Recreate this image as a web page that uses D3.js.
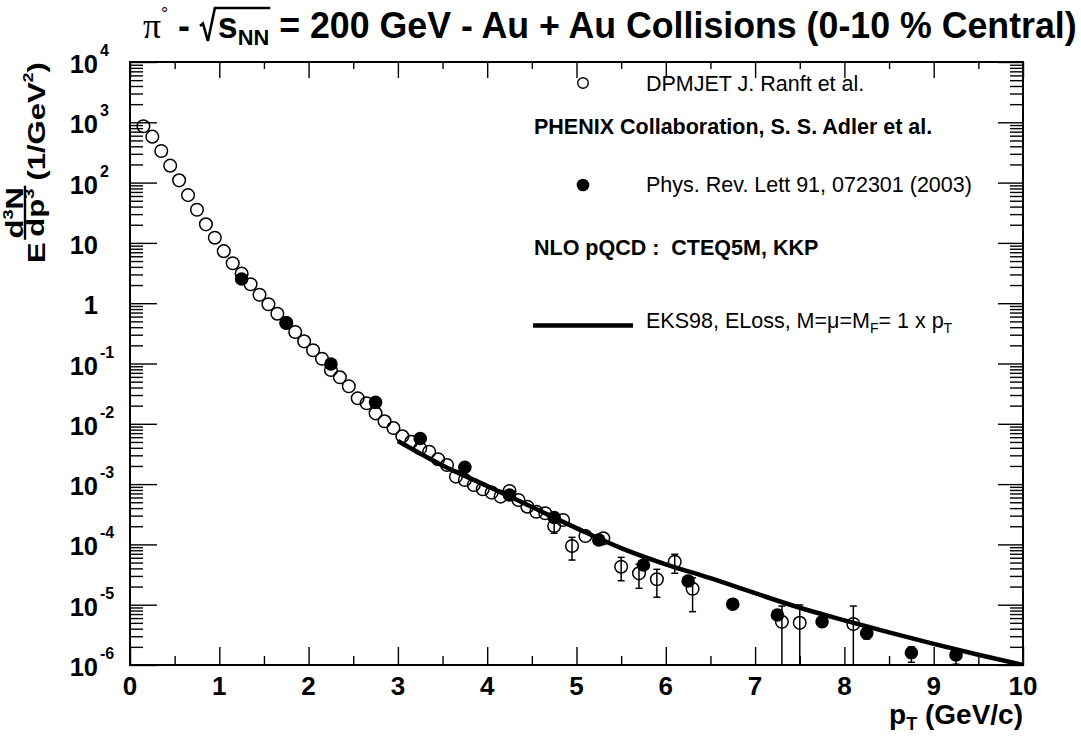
<!DOCTYPE html>
<html>
<head>
<meta charset="utf-8">
<script src="https://cdn.jsdelivr.net/npm/d3@7"></script>
<style>
  html, body { margin: 0; padding: 0; background: #fff; }
  svg { display: block; }
  text { white-space: pre; }
</style>
</head>
<body>
<svg id="chart" width="1081" height="737"></svg>
<script>
// ---- Data -------------------------------------------------------------
// DPMJET (J. Ranft et al.) pi0 invariant yield, open circles
const dpmjetPt = [0.15, 0.25, 0.35, 0.45, 0.55, 0.65, 0.75, 0.85, 0.95, 1.05,
  1.15, 1.25, 1.35, 1.45, 1.55, 1.65, 1.75, 1.85, 1.95, 2.05,
  2.15, 2.25, 2.35, 2.45, 2.55, 2.65, 2.75, 2.85, 2.95, 3.05,
  3.15, 3.25, 3.35, 3.45, 3.55, 3.65, 3.75, 3.85, 3.95, 4.05,
  4.15, 4.25, 4.35, 4.45, 4.55, 4.65, 4.75, 4.85, 4.95, 5.1,
  5.3, 5.5, 5.7, 5.9, 6.1, 6.3, 7.3, 7.5, 8.1];
const dpmjetYield = [860, 578, 334, 191, 109, 62, 35.5, 20.3, 12.2, 7.3,
  4.6, 3.09, 2.06, 1.38, 0.96, 0.67, 0.47, 0.333, 0.233, 0.166,
  0.12, 0.078, 0.059, 0.042, 0.0265, 0.0219, 0.0149, 0.011, 0.0085, 0.0062,
  0.00505, 0.0039, 0.00344, 0.00258, 0.00207, 0.00133, 0.00117, 0.000966, 0.00082, 0.000722,
  0.00062, 0.00077, 0.000545, 0.000422, 0.000348, 0.000328, 0.000202, 0.000254, 9.4e-5, 1.38e-4,
  1.26e-4, 4.27e-5, 3.31e-5, 2.64e-5, 5.16e-5, 1.84e-5, 5.2e-6, 5.0e-6, 4.79e-6];
// statistical error band (low, high); null = no bar drawn
const dpmjetLow = [null, null, null, null, null, null, null, null, null, null,
  null, null, null, null, null, null, null, null, null, null,
  null, null, null, null, null, null, null, null, null, null,
  null, null, null, null, null, null, null, null, null, null,
  null, null, null, null, null, null, 1.53e-4, null, 5.5e-5, null,
  null, 2.5e-5, 1.87e-5, 1.33e-5, 3.32e-5, 7.66e-6, 1e-7, 1e-7, 1e-7];
const dpmjetHigh = [null, null, null, null, null, null, null, null, null, null,
  null, null, null, null, null, null, null, null, null, null,
  null, null, null, null, null, null, null, null, null, null,
  null, null, null, null, null, null, null, null, null, null,
  null, null, null, null, null, null, 2.6e-4, null, 1.31e-4, null,
  null, 6.1e-5, 4.7e-5, 3.86e-5, 6.85e-5, 2.8e-5, 9.5e-6, 9.9e-6, 9.5e-6];

// PHENIX, Phys. Rev. Lett 91, 072301 (2003), filled circles
const phenixPt = [1.25, 1.75, 2.25, 2.75, 3.25, 3.75, 4.25, 4.75, 5.25,
  5.75, 6.25, 6.75, 7.25, 7.75, 8.25, 8.75, 9.25];
const phenixYield = [2.52, 0.475, 0.098, 0.0227, 0.0057, 0.0019, 0.00066, 0.00028, 0.000118,
  4.55e-5, 2.47e-5, 1.02e-5, 6.75e-6, 5.22e-6, 3.36e-6, 1.6e-6, 1.47e-6];
const phenixLow = [null, null, null, null, null, null, null, null, null,
  null, null, null, null, null, 2.7e-6, 1.11e-6, 1.03e-6];
const phenixHigh = [null, null, null, null, null, null, null, null, null,
  null, null, null, null, null, 4.1e-6, 2.0e-6, 1.85e-6];

// NLO pQCD (CTEQ5M, KKP), EKS98 + energy loss
const nloPt = [3.0, 3.5, 4.0, 4.5, 5.0, 5.5, 6.0, 6.5, 7.0, 7.5, 8.0, 8.5, 9.0, 9.5, 10.0];
const nloYield = [5.19e-3, 2.04e-3, 9.33e-4, 4.17e-4, 1.86e-4, 8.7e-5, 4.68e-5, 2.75e-5,
  1.55e-5, 8.9e-6, 5.5e-6, 3.47e-6, 2.24e-6, 1.48e-6, 1.0e-6];

// Axis ticks and labels
const xMajorTicks = [0, 1, 2, 3, 4, 5, 6, 7, 8, 9, 10];
const xMinorTicks = [0.5, 1.5, 2.5, 3.5, 4.5, 5.5, 6.5, 7.5, 8.5, 9.5];
const yDecadeExponents = [-6, -5, -4, -3, -2, -1, 0, 1, 2, 3, 4];

// ---- Layout -----------------------------------------------------------
const FONT = "'Liberation Sans', Arial, Helvetica, sans-serif";
const plotLeft = 130, plotRight = 1023, plotTop = 62, plotBottom = 665;

const svg = d3.select("#chart");
const x = d3.scaleLinear().domain([0, 10]).range([plotLeft, plotRight]);
const y = d3.scaleLog().domain([1e-6, 1e4]).range([plotBottom, plotTop]);

const yMajorTicks = yDecadeExponents.map(e => Math.pow(10, e));
const yMinorTicks = [];
yDecadeExponents.slice(0, -1).forEach(e => {
  for (let k = 2; k <= 9; k++) yMinorTicks.push(k * Math.pow(10, e));
});

svg.append("defs").append("clipPath").attr("id", "plotClip")
  .append("rect").attr("x", plotLeft).attr("y", plotTop)
  .attr("width", plotRight - plotLeft).attr("height", plotBottom - plotTop);

// ---- Ticks (drawn inward, on all four sides) --------------------------
function tickGroup(axis, tx, ty) {
  const g = svg.append("g").attr("transform", `translate(${tx},${ty})`).call(axis);
  g.select(".domain").remove();
  g.selectAll("text").remove();
  g.selectAll("line").attr("stroke", "#000").attr("stroke-width", 1.4);
  return g;
}
tickGroup(d3.axisBottom(x).tickValues(xMajorTicks).tickSize(-18), 0, plotBottom);
tickGroup(d3.axisBottom(x).tickValues(xMinorTicks).tickSize(-9), 0, plotBottom);
tickGroup(d3.axisTop(x).tickValues(xMajorTicks).tickSize(-16), 0, plotTop);
tickGroup(d3.axisTop(x).tickValues(xMinorTicks).tickSize(-7), 0, plotTop);
tickGroup(d3.axisLeft(y).tickValues(yMajorTicks).tickSize(-27), plotLeft, 0);
tickGroup(d3.axisLeft(y).tickValues(yMinorTicks).tickSize(-13), plotLeft, 0);
tickGroup(d3.axisRight(y).tickValues(yMajorTicks).tickSize(-25), plotRight, 0);
tickGroup(d3.axisRight(y).tickValues(yMinorTicks).tickSize(-13), plotRight, 0);

// frame
svg.append("rect").attr("x", plotLeft).attr("y", plotTop)
  .attr("width", plotRight - plotLeft).attr("height", plotBottom - plotTop)
  .attr("fill", "none").attr("stroke", "#000").attr("stroke-width", 2);

// ---- Tick labels ------------------------------------------------------
svg.append("g").selectAll("text").data(xMajorTicks).join("text")
  .attr("x", d => x(d)).attr("y", plotBottom + 30)
  .attr("text-anchor", "middle")
  .attr("font-family", FONT).attr("font-weight", "bold").attr("font-size", 26)
  .text(d => d);

const yl = svg.append("g").attr("font-family", FONT).attr("font-weight", "bold");
yDecadeExponents.forEach(e => {
  const ty = y(Math.pow(10, e));
  yl.append("text").attr("x", 98).attr("y", ty + 11).attr("text-anchor", "end")
    .attr("font-size", 25.5).text(e === 0 ? "1" : "10");
  if (e !== 0 && e !== 1) {
    yl.append("text").attr("x", 100).attr("y", ty - 6).attr("font-size", 16).text(e);
  }
});

// ---- Axis titles ------------------------------------------------------
const xt = svg.append("text").attr("x", plotRight).attr("y", 724).attr("text-anchor", "end")
  .attr("font-family", FONT).attr("font-weight", "bold").attr("font-size", 28);
xt.append("tspan").text("p");
xt.append("tspan").attr("font-size", 18).attr("dy", 6).text("T");
xt.append("tspan").attr("dy", -6).text(" (GeV/c)");

// Y title: E d^3N/dp^3 (1/GeV^2), rotated and stretched along its direction
const yOuter = svg.append("g").attr("transform", "translate(45,263) rotate(-90)");
const yInner = yOuter.append("g").attr("font-family", FONT).attr("font-weight", "bold");
const yfs = 24;
const tE = yInner.append("text").attr("x", 0).attr("y", 0).attr("font-size", yfs).text("E");
const wE = tE.node().getComputedTextLength();
const num = yInner.append("text").attr("y", -22).attr("font-size", yfs).attr("text-anchor", "middle");
num.append("tspan").text("d");
num.append("tspan").attr("font-size", 14).attr("dy", -10).text("3");
num.append("tspan").attr("dy", 10).text("N");
const den = yInner.append("text").attr("y", -1).attr("font-size", yfs).attr("text-anchor", "middle");
den.append("tspan").text("dp");
den.append("tspan").attr("font-size", 14).attr("dy", -10).text("3");
const wFrac = Math.max(num.node().getComputedTextLength(), den.node().getComputedTextLength());
const fx0 = wE + 2;
num.attr("x", fx0 + wFrac / 2 + 1);
den.attr("x", fx0 + wFrac / 2 + 1);
yInner.append("line").attr("x1", fx0).attr("x2", fx0 + wFrac + 2)
  .attr("y1", -20).attr("y2", -20).attr("stroke", "#000").attr("stroke-width", 2.4);
const unit = yInner.append("text").attr("x", fx0 + wFrac + 6).attr("y", 0).attr("font-size", yfs);
unit.append("tspan").text("(1/GeV");
unit.append("tspan").attr("font-size", 14).attr("dy", -12).text("2");
unit.append("tspan").attr("dy", 12).text(")");
const yTitleLen = fx0 + wFrac + 6 + unit.node().getComputedTextLength();
yInner.attr("transform", `scale(${201 / yTitleLen},1)`);

// ---- Title ------------------------------------------------------------
const tg = svg.append("g");
const tt = tg.append("text").attr("x", 0).attr("y", 0)
  .attr("font-family", FONT).attr("font-weight", "bold").attr("font-size", 36);
tt.append("tspan").attr("font-family", "'Liberation Serif', serif").attr("font-weight", "normal").text("π");
tt.append("tspan").attr("font-size", 18).attr("font-weight", "normal").attr("dy", -18).text("°");
tt.append("tspan").attr("dy", 18).text(" - ");
tt.append("tspan").attr("dx", 18).text("s");
tt.append("tspan").attr("font-size", 22).attr("dy", 7).text("NN");
tt.append("tspan").attr("dy", -7).text(" = 200 GeV - Au + Au Collisions (0-10 % Central)");
const ttNode = tt.node();
const nChars = ttNode.getNumberOfChars();
const titleStart = ttNode.getStartPositionOfChar(0).x;
const titleEnd = ttNode.getEndPositionOfChar(nChars - 1).x;
const sStart = ttNode.getStartPositionOfChar(5).x;
const nnEnd = ttNode.getEndPositionOfChar(7).x;
tg.append("path")
  .attr("d", `M${sStart - 18},-12 L${sStart - 15},-14.5 L${sStart - 10},3 L${sStart - 3},-30 L${nnEnd + 1},-30`)
  .attr("fill", "none").attr("stroke", "#000").attr("stroke-width", 2.6)
  .attr("stroke-linejoin", "miter");
const titleScale = 934 / (titleEnd - titleStart);
tg.attr("transform", `translate(${143 - titleStart * titleScale},38) scale(${titleScale},1)`);

// ---- Data marks -------------------------------------------------------
const plot = svg.append("g").attr("clip-path", "url(#plotClip)");

function errorBars(g, pts, lows, highs) {
  pts.forEach((p, i) => {
    if (lows[i] == null) return;
    const px = x(p), yLo = y(lows[i]), yHi = y(highs[i]);
    g.append("line").attr("x1", px).attr("x2", px).attr("y1", yLo).attr("y2", yHi)
      .attr("stroke", "#000").attr("stroke-width", 1.5);
    [yLo, yHi].forEach(v => g.append("line").attr("x1", px - 3.5).attr("x2", px + 3.5)
      .attr("y1", v).attr("y2", v).attr("stroke", "#000").attr("stroke-width", 1.5));
  });
}

errorBars(plot, phenixPt, phenixLow, phenixHigh);
errorBars(plot, dpmjetPt, dpmjetLow, dpmjetHigh);

plot.append("g").selectAll("circle").data(phenixPt).join("circle")
  .attr("cx", d => x(d)).attr("cy", (d, i) => y(phenixYield[i])).attr("r", 6.8)
  .attr("fill", "#000");

plot.append("g").selectAll("circle").data(dpmjetPt).join("circle")
  .attr("cx", d => x(d)).attr("cy", (d, i) => y(dpmjetYield[i])).attr("r", 6.3)
  .attr("fill", "none").attr("stroke", "#000").attr("stroke-width", 1.5);

const nloLine = d3.line().x(d => x(d[0])).y(d => y(d[1])).curve(d3.curveMonotoneX);
plot.append("path").datum(nloPt.map((p, i) => [p, nloYield[i]]))
  .attr("d", nloLine).attr("fill", "none").attr("stroke", "#000").attr("stroke-width", 4.5);

// ---- Legend -----------------------------------------------------------
const lg = svg.append("g").attr("font-family", FONT).attr("font-size", 21.5);
lg.append("circle").attr("cx", 583).attr("cy", 83).attr("r", 5.3)
  .attr("fill", "none").attr("stroke", "#000").attr("stroke-width", 1.4);
lg.append("text").attr("x", 646).attr("y", 91).text("DPMJET J. Ranft et al.");
lg.append("text").attr("x", 534).attr("y", 134).attr("font-weight", "bold")
  .text("PHENIX Collaboration, S. S. Adler et al.");
lg.append("circle").attr("cx", 583).attr("cy", 185).attr("r", 6.3).attr("fill", "#000");
lg.append("text").attr("x", 646).attr("y", 192).text("Phys. Rev. Lett 91, 072301 (2003)");
lg.append("text").attr("x", 534).attr("y", 255).attr("font-weight", "bold")
  .text("NLO pQCD :  CTEQ5M, KKP");
lg.append("line").attr("x1", 533).attr("x2", 633).attr("y1", 325.5).attr("y2", 325.5)
  .attr("stroke", "#000").attr("stroke-width", 4.5);
const eks = lg.append("text").attr("x", 646).attr("y", 328);
eks.append("tspan").text("EKS98, ELoss, M=μ=M");
eks.append("tspan").attr("font-size", 14).attr("dy", 5).text("F");
eks.append("tspan").attr("dy", -5).text("= 1 x p");
eks.append("tspan").attr("font-size", 14).attr("dy", 5).text("T");
</script>
</body>
</html>
